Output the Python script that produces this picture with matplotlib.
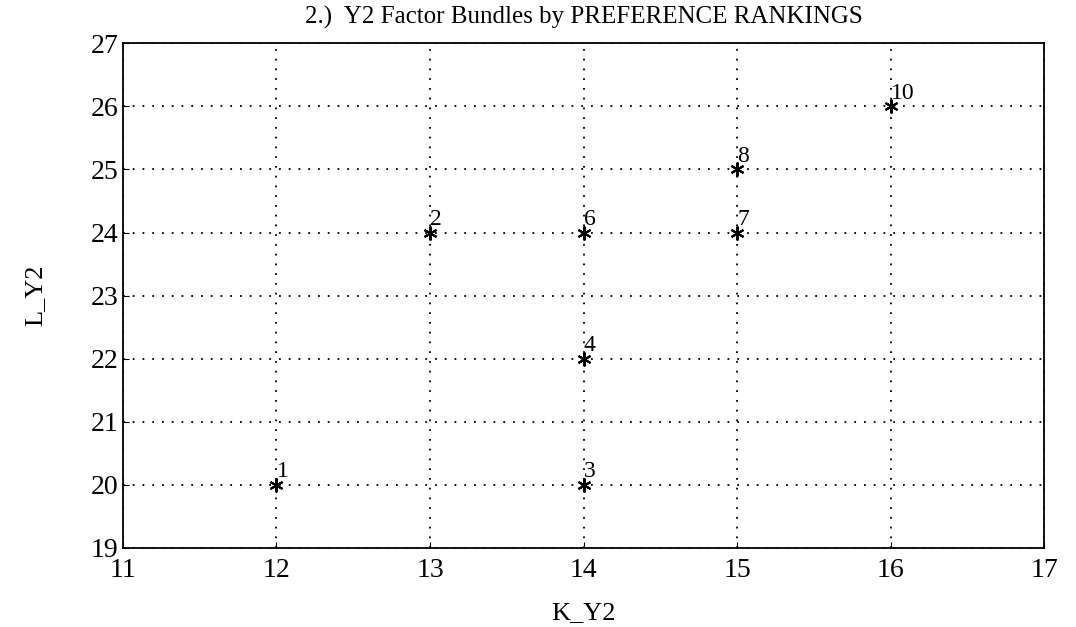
import matplotlib.pyplot as plt

k_y2 = [12, 13, 14, 14, 14, 15, 15, 16]
l_y2 = [20, 24, 20, 22, 24, 24, 25, 26]
ranks = ['1', '2', '3', '4', '6', '7', '8', '10']

x_ticks = [11, 12, 13, 14, 15, 16, 17]
y_ticks = [19, 20, 21, 22, 23, 24, 25, 26, 27]

plt.rcParams['font.family'] = ['Liberation Serif', 'DejaVu Serif']

fig = plt.figure(figsize=(10.76, 6.27), dpi=100)
ax = fig.add_axes([0.1143, 0.126, 0.856, 0.805])

ax.plot(k_y2, l_y2, linestyle='none', marker=(6, 2, 0), markersize=10,
        markeredgewidth=1.5, color='black')
for x, y, r in zip(k_y2, l_y2, ranks):
    ax.annotate(r, (x, y), xytext=(0, 2), textcoords='offset points',
                ha='left', va='bottom', fontsize=17)

ax.set_xlim(11, 17)
ax.set_ylim(19, 27)
ax.set_xticks(x_ticks)
ax.set_yticks(y_ticks)
ax.tick_params(direction='in', length=4, labelsize=20)
ax.tick_params(axis='x', pad=7)
ax.tick_params(axis='y', pad=3)
ax.grid(True, linestyle=(0, (1, 4.4)), color='black', linewidth=1.3)
for s in ax.spines.values():
    s.set_linewidth(1.3)

ax.set_title('2.)  Y2 Factor Bundles by PREFERENCE RANKINGS', fontsize=18, pad=14)
ax.set_xlabel('K_Y2', fontsize=19, labelpad=14)
ax.set_ylabel('L_Y2', fontsize=19, labelpad=32)

plt.savefig('out.png', dpi=100)
